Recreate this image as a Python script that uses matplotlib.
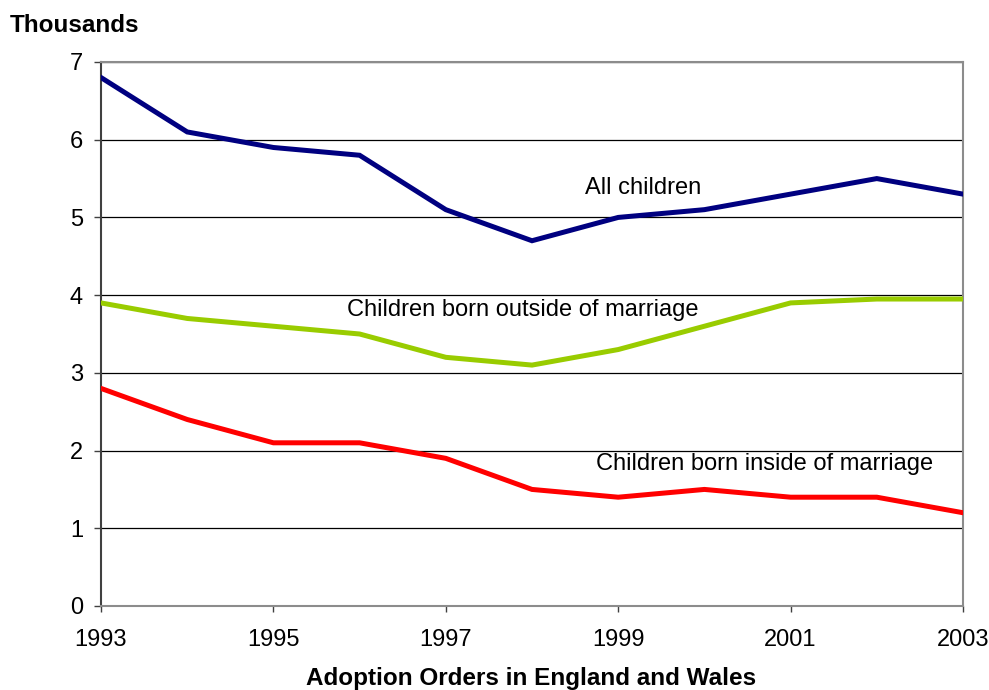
import numpy as np
import matplotlib.pyplot as plt

plt.rcParams['font.family'] = ['Liberation Sans', 'DejaVu Sans']

# Adoption orders in England and Wales (thousands)
years = np.arange(1993, 2004)
all_children = [6.8, 6.1, 5.9, 5.8, 5.1, 4.7, 5.0, 5.1, 5.3, 5.5, 5.3]
outside_marriage = [3.9, 3.7, 3.6, 3.5, 3.2, 3.1, 3.3, 3.6, 3.9, 3.95, 3.95]
inside_marriage = [2.8, 2.4, 2.1, 2.1, 1.9, 1.5, 1.4, 1.5, 1.4, 1.4, 1.2]
xticks = [1993, 1995, 1997, 1999, 2001, 2003]

fig = plt.figure(figsize=(9.89, 6.9), dpi=100)
ax = fig.add_axes([101/989, 1 - 606/690, (963-101)/989, (606-62)/690])

ax.plot(years, all_children, color='#000080', lw=3.6, solid_joinstyle='miter', zorder=3)
ax.plot(years, outside_marriage, color='#99CC00', lw=3.6, solid_joinstyle='miter', zorder=3)
ax.plot(years, inside_marriage, color='#FF0000', lw=3.6, solid_joinstyle='miter', zorder=3)

ax.set_xlim(1993, 2003)
ax.set_ylim(0, 7)
ax.set_xticks(xticks)
ax.set_yticks(range(0, 8))
ax.grid(axis='y', color='black', lw=0.9)
ax.set_axisbelow(True)
ax.tick_params(axis='x', labelsize=17, length=4.5, width=1, color='#404040', pad=12)
ax.tick_params(axis='y', labelsize=17, length=5, width=1, color='#404040', pad=8)

for s in ['top', 'right', 'bottom']:
    ax.spines[s].set_color('#8c8c8c')
    ax.spines[s].set_linewidth(1.5)
ax.spines['left'].set_color('#404040')
ax.spines['left'].set_linewidth(1.5)

ax.text(1998.61, 5.38, 'All children', fontsize=17, va='center', ha='left')
ax.text(1995.85, 3.81, 'Children born outside of marriage', fontsize=17, va='center', ha='left')
ax.text(1998.74, 1.83, 'Children born inside of marriage', fontsize=17, va='center', ha='left')

fig.text(10/989, 1 - 25/690, 'Thousands', fontsize=17.5, fontweight='bold', va='center', ha='left')
fig.text(531/989, 1 - 678/690, 'Adoption Orders in England and Wales', fontsize=17.5,
         fontweight='bold', va='center', ha='center')

plt.savefig('out.png', dpi=100)
